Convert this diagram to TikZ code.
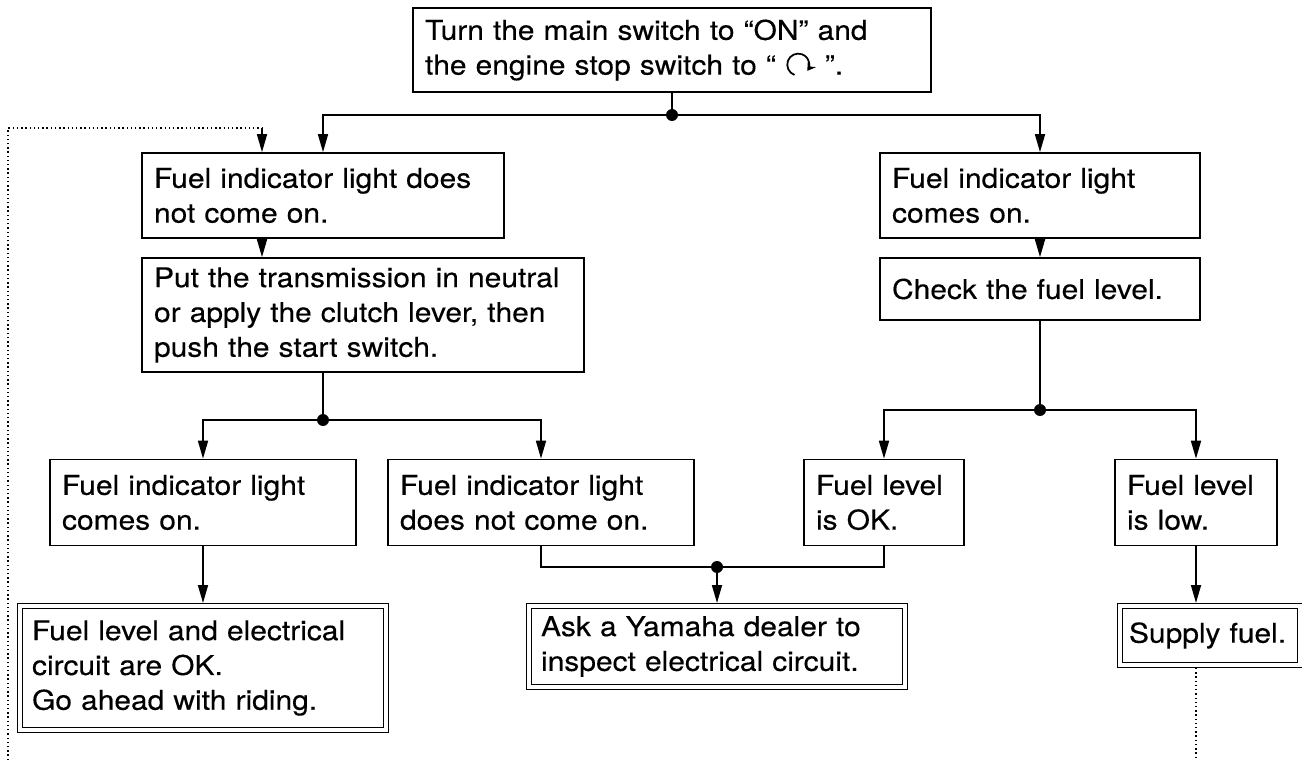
\documentclass[tikz,border=0pt]{standalone}
\usepackage{fontspec}
\setmainfont{TeX Gyre Heros}[FakeStretch=1.1,FakeBold=0.3]
\usetikzlibrary{arrows.meta}

\newcommand{\runmark}{\tikz[baseline=-0.7ex]\draw[line width=1pt,-{Stealth[length=4.5pt,width=5.5pt]}] (250:0.22cm) arc[start angle=250,end angle=-35,radius=0.22cm];}

\tikzset{
	box/.style={draw, line width=0.95pt, align=left, inner xsep=0.24cm, inner ysep=0pt, font=\fontsize{15.5}{19.8}\selectfont, execute at begin node={\hyphenpenalty=10000}},
	endbox/.style={box, double, double distance=0.07cm, outer sep=0.06cm},
	flow/.style={line width=0.95pt},
	flowarrow/.style={flow, -{Triangle[length=0.36cm,width=0.2cm]}},
	backline/.style={line width=0.75pt, dash pattern=on 0.8pt off 1.6pt},
}

\begin{document}
\begin{tikzpicture}[x=0.02cm, y=-0.02cm]
		\useasboundingbox (0,0) rectangle (1302,760);

		\node[box, text width=9.88cm, minimum height=1.68cm] (start) at (672,50) {Turn the main switch to “ON” and\\the engine stop switch to “ \runmark{} ”.};

		\node[box, text width=6.76cm, minimum height=1.70cm] (nolight) at (323,195.5) {Fuel indicator light does\\not come on.};
		\node[box, text width=5.92cm, minimum height=1.70cm] (light) at (1040,195.5) {Fuel indicator light\\comes on.};

		\node[box, text width=8.36cm, minimum height=2.28cm] (neutral) at (363,315) {Put the transmission in neutral\\or apply the clutch lever, then\\push the start switch.};
		\node[box, text width=5.92cm, minimum height=1.24cm] (check) at (1040,289) {Check the fuel level.};

		\node[box, text width=5.64cm, minimum height=1.72cm] (lighton) at (203,502.5) {Fuel indicator light\\comes on.};
		\node[box, text width=5.64cm, minimum height=1.72cm] (lightoff) at (541,502.5) {Fuel indicator light\\does not come on.};
		\node[box, text width=2.72cm, minimum height=1.72cm] (levelok) at (884,502.5) {Fuel level\\is OK.};
		\node[box, text width=2.76cm, minimum height=1.72cm] (levellow) at (1196,502.5) {Fuel level\\is low.};

		\node[endbox, text width=6.84cm, minimum height=2.48cm] (ridebox) at (203,668) {Fuel level and electrical\\circuit are OK.\\Go ahead with riding.};
		\node[endbox, text width=7.04cm, minimum height=1.62cm] (dealer) at (717,646.5) {Ask a Yamaha dealer to\\inspect electrical circuit.};
		\node[endbox, inner xsep=0.18cm, text width=3.24cm, minimum height=1.18cm] (fuelbox) at (1210,635.5) {Supply fuel.};

		\coordinate (jn1) at (672,115);
		\coordinate (jn2) at (323,420);
		\coordinate (jn3) at (1040,410);
		\coordinate (jn4) at (717,567);
		\coordinate (turn) at (262,128);
		\coordinate (exitl) at (8,760);
		\coordinate (exitr) at (1196,760);

		\draw[flow] (start.south -| jn1) -- (jn1);
		\draw[flowarrow] (jn1) -| (nolight.north -| jn2);
		\draw[flowarrow] (jn1) -| (light);
		\draw[backline] (exitl) |- (turn);
		\draw[flowarrow] (turn) -- (nolight.north -| turn);
		\draw[flowarrow] (nolight.south -| turn) -- (neutral.north -| turn);
		\draw[flow] (neutral.south -| jn2) -- (jn2);
		\draw[flowarrow] (jn2) -| (lighton);
		\draw[flowarrow] (jn2) -| (lightoff);
		\draw[flowarrow] (light) -- (check);
		\draw[flow] (check) -- (jn3);
		\draw[flowarrow] (jn3) -| (levelok);
		\draw[flowarrow] (jn3) -| (levellow);
		\draw[flowarrow] (lighton) -- (ridebox);
		\draw[flow] (lightoff.south) |- (jn4) -| (levelok.south);
		\draw[flowarrow] (jn4) -- (dealer);
		\draw[flowarrow] (levellow) -- (fuelbox.north -| levellow);
		\draw[backline] (fuelbox.south -| levellow) -- (exitr);

		\foreach \j in {jn1,jn2,jn3,jn4}
		{
			\fill (\j) circle (0.12cm);
		}
	\end{tikzpicture}
\end{document}
